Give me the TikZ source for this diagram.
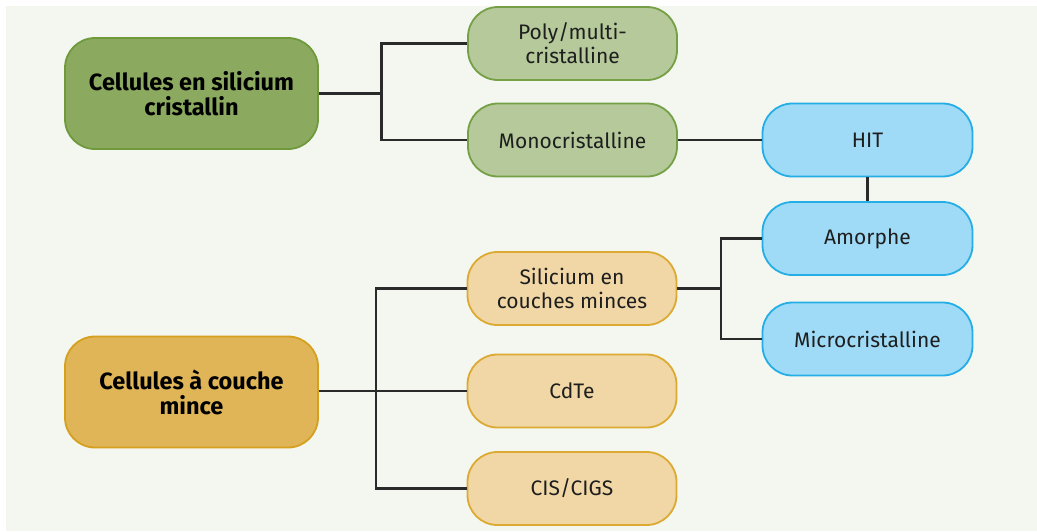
\documentclass[tikz,border=0pt]{standalone}
\usepackage{fontspec}
\setmainfont{Fira Sans}
\definecolor{bgc}{HTML}{F4F6F0}
\definecolor{dgfill}{HTML}{8BAA5F}
\definecolor{dgdraw}{HTML}{6E9A3C}
\definecolor{lgfill}{HTML}{B5C99A}
\definecolor{lgdraw}{HTML}{75A045}
\definecolor{bfill}{HTML}{9FDBF7}
\definecolor{bdraw}{HTML}{25AEE6}
\definecolor{dofill}{HTML}{E0B558}
\definecolor{dodraw}{HTML}{D4A01E}
\definecolor{lofill}{HTML}{F0D7A5}
\definecolor{lodraw}{HTML}{DCAA32}
\definecolor{txt}{HTML}{1E1E1E}
\definecolor{lnc}{HTML}{2A2A2A}
\tikzset{
  box/.style={rounded corners=30pt, line width=1.8pt, align=center, text=txt,
    font=\fontsize{21}{24}\selectfont, inner sep=0pt},
  titlebox/.style={box, minimum width=253pt, minimum height=111pt, text=black,
    font=\fontsize{23.5}{25}\selectfont\bfseries},
  subbox/.style={box, minimum width=209pt, minimum height=73pt},
  bluebox/.style={box, minimum width=210pt, minimum height=73pt, fill=bfill, draw=bdraw},
  conn/.style={draw=lnc, line width=2.2pt}
}
\begin{document}
\begin{tikzpicture}[x=1pt,y=-1pt]
\useasboundingbox (0,0) rectangle (1037,531);
\fill[white] (0,0) rectangle (1037,531);
\fill[bgc] (6,6) rectangle (1037,531);

\node[titlebox, fill=dgfill, draw=dgdraw] (sil) at (191.5,93.5) {Cellules en silicium\\cristallin};
\node[subbox, fill=lgfill, draw=lgdraw] (poly) at (572.5,43.5) {Poly/multi-\\cristalline};
\node[subbox, fill=lgfill, draw=lgdraw] (mono) at (572.5,140) {Monocristalline};
\node[bluebox] (hit) at (867.5,140) {HIT};
\node[bluebox] (amo) at (867.5,238.5) {Amorphe};
\node[bluebox] (micro) at (867.5,339) {Microcristalline};
\node[titlebox, fill=dofill, draw=dodraw] (mince) at (191.5,392) {Cellules à couche\\mince};
\node[subbox, fill=lofill, draw=lodraw] (sicm) at (572,288.5) {Silicium en\\couches minces};
\node[subbox, fill=lofill, draw=lodraw] (cdte) at (572,391) {CdTe};
\node[subbox, fill=lofill, draw=lodraw] (cis) at (572,488.5) {CIS/CIGS};

\coordinate (j1) at (381.5,93.5);
\coordinate (j2) at (376,391);
\coordinate (j3) at (721,288.5);

\draw[conn] (sil.east) -- (j1);
\draw[conn] (poly.west) -| (j1) |- (mono.west);
\draw[conn] (mono.east) -- (hit.west);
\draw[conn] (hit.south) -- (amo.north);
\draw[conn] (sicm.east) -- (j3);
\draw[conn] (amo.west) -| (j3) |- (micro.west);
\draw[conn] (mince.east |- cdte.west) -- (cdte.west);
\draw[conn] (sicm.west) -| (j2) |- (cis.west);
\end{tikzpicture}
\end{document}
